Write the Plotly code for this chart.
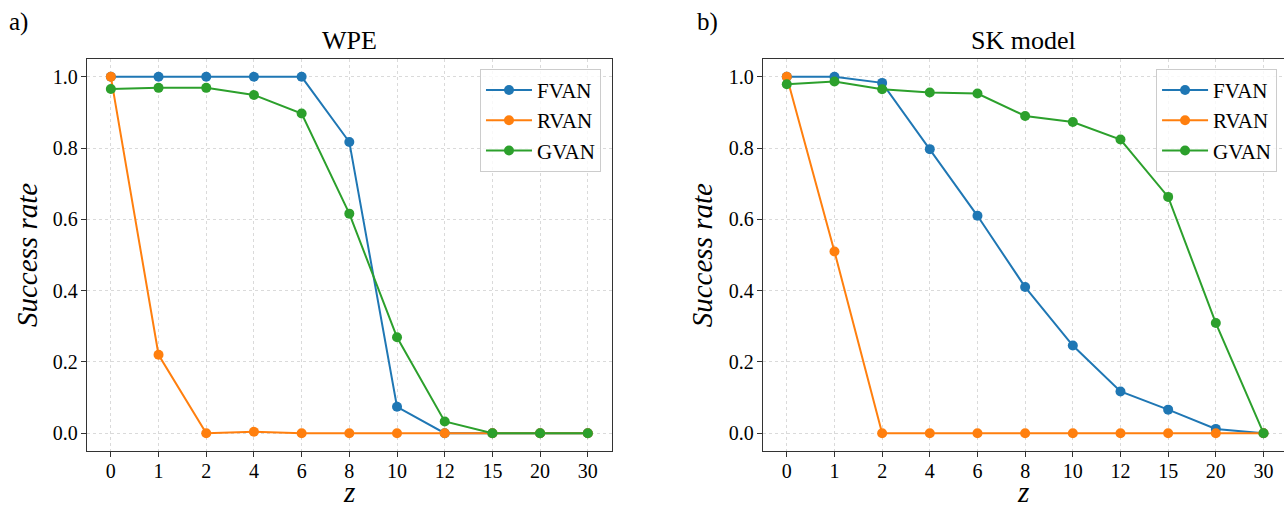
import plotly.graph_objects as go

# ---------------- data ----------------
z_labels = ["0", "1", "2", "4", "6", "8", "10", "12", "15", "20", "30"]

wpe_fvan = [1.0, 1.0, 1.0, 1.0, 1.0, 0.817, 0.074, 0.0, 0.0, 0.0, 0.0]
wpe_rvan = [1.0, 0.220, 0.0, 0.004, 0.0, 0.0, 0.0, 0.0, 0.0, 0.0, 0.0]
wpe_gvan = [0.966, 0.969, 0.969, 0.949, 0.897, 0.616, 0.269, 0.033, 0.0, 0.0, 0.0]

sk_fvan = [1.0, 1.0, 0.983, 0.797, 0.610, 0.410, 0.246, 0.117, 0.066, 0.012, 0.0]
sk_rvan = [1.0, 0.510, 0.0, 0.0, 0.0, 0.0, 0.0, 0.0, 0.0, 0.0, 0.0]
sk_gvan = [0.979, 0.987, 0.965, 0.956, 0.953, 0.890, 0.873, 0.824, 0.663, 0.309, 0.0]

series_names = ["FVAN", "RVAN", "GVAN"]
colors = ["#1f77b4", "#ff7f0e", "#2ca02c"]

FONT = "Liberation Serif"
W, H = 1284, 506
ML, MR, MT, MB = 87, 0, 59, 55

fig = go.Figure()

panels = [
    ("x", "y", "legend", [wpe_fvan, wpe_rvan, wpe_gvan]),
    ("x2", "y2", "legend2", [sk_fvan, sk_rvan, sk_gvan]),
]
for xa, ya, lg, data in panels:
    for name, col, vals in zip(series_names, colors, data):
        fig.add_trace(go.Scatter(
            x=z_labels, y=vals, name=name, mode="lines+markers",
            line=dict(color=col, width=2),
            marker=dict(color=col, size=10),
            xaxis=xa, yaxis=ya, legend=lg,
        ))

axis_common = dict(
    showgrid=True, gridcolor="#dadada", griddash="dot", gridwidth=1,
    zeroline=False, showline=True, linecolor="#333333", linewidth=1.3,
    ticks="outside", ticklen=5, tickwidth=1.2, tickcolor="#333333",
    tickfont=dict(family=FONT, size=20, color="black"),
)
xaxis_common = dict(type="category", ticklabelstandoff=-3, **axis_common)
yaxis_common = dict(range=[-0.05, 1.05], tickvals=[0, 0.2, 0.4, 0.6, 0.8, 1.0],
                    tickformat=".1f", ticklabelstandoff=-1, domain=[0, 1], **axis_common)

legend_common = dict(
    xanchor="right", yanchor="top",
    bgcolor="rgba(255,255,255,0.8)", bordercolor="#cccccc", borderwidth=1,
    font=dict(family=FONT, size=21, color="black"),
    itemwidth=46,
)

fig.update_layout(
    width=W, height=H,
    margin=dict(l=ML, r=MR, t=MT, b=MB),
    paper_bgcolor="white", plot_bgcolor="white",
    font=dict(family=FONT, color="black"),
    xaxis=dict(domain=[0, 0.4383], range=[-0.5, 10.5], mirror=True, anchor="y", **xaxis_common),
    yaxis=dict(mirror=True, anchor="x", **yaxis_common),
    xaxis2=dict(domain=[0.5647, 1], range=[-0.5, 10.43], mirror=True, anchor="y2", **xaxis_common),
    yaxis2=dict(mirror=False, anchor="x2", **yaxis_common),
    legend=dict(x=0.4294, y=0.975, **legend_common),
    legend2=dict(x=0.9942, y=0.975, **legend_common),
    showlegend=True,
)

annots = [
    # titles
    dict(text="WPE", x=0.2192, y=1.047, size=26, style="normal", ya="middle"),
    dict(text="SK model", x=0.7823, y=1.047, size=26, style="normal", ya="middle"),
    # axis titles
    dict(text="z", x=0.2192, y=-0.1508, size=29, style="italic", ya="bottom"),
    dict(text="z", x=0.7823, y=-0.1508, size=29, style="italic", ya="bottom"),
    dict(text="Success rate", x=-0.0501, y=0.5, size=29, style="italic", angle=-90, ya="middle"),
    dict(text="Success rate", x=0.514, y=0.5, size=29, style="italic", angle=-90, ya="middle"),
    # panel labels
    dict(text="a)", x=-0.0576, y=1.095, size=25, style="normal", ya="middle"),
    dict(text="b)", x=0.518, y=1.095, size=25, style="normal", ya="middle"),
]
for a in annots:
    fig.add_annotation(
        text=a["text"], x=a["x"], y=a["y"], xref="paper", yref="paper",
        xanchor="center", yanchor=a["ya"], showarrow=False,
        textangle=a.get("angle", 0),
        font=dict(family=FONT, size=a["size"], color="black", style=a["style"]),
    )

fig.write_html("out.html", config={"displayModeBar": False},
               post_script="document.body.style.margin='0';")
